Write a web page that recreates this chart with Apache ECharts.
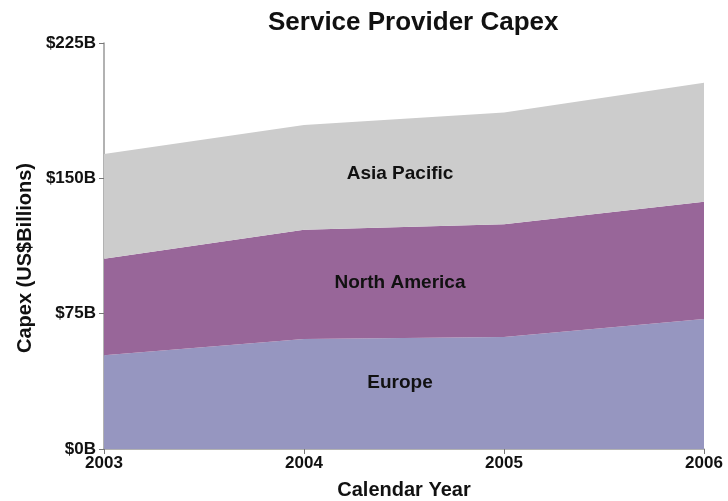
<!DOCTYPE html>
<html><head><meta charset="utf-8">
<script src="https://cdn.jsdelivr.net/npm/echarts@6/dist/echarts.min.js"></script>
<style>html,body{margin:0;padding:0;background:#fff}#c{width:728px;height:501px}</style>
</head><body><div id="c"></div>
<script>
var years = ['2003','2004','2005','2006'];
var europe = [52, 61, 62, 72];
var northAmerica = [53.5, 60.5, 62.5, 65];
var asiaPacific = [58, 58, 62, 66];
var seriesNames = ['Europe','North America','Asia Pacific'];
var colors = ['#9696c0','#986699','#cccccc'];
var yTicks = [0, 75, 150, 225];

var chart = echarts.init(document.getElementById('c'));
var font = '"Liberation Sans", Arial, sans-serif';
function mk(name, data, color){
  return {name:name, type:'line', stack:'total', data:data, symbol:'none', smooth:false,
    lineStyle:{width:0}, areaStyle:{color:color, opacity:1}, itemStyle:{color:color}};
}
chart.setOption({
  animation:false,
  title:{text:'Service Provider Capex', left:263, top:5,
    textStyle:{fontFamily:font, fontWeight:'bold', fontSize:26, color:'#111'}},
  grid:{left:104, right:24, top:43, bottom:52, containLabel:false, outerBoundsMode:'none'},
  xAxis:{type:'category', data:years, boundaryGap:false,
    name:'Calendar Year', nameLocation:'middle', nameGap:31,
    nameTextStyle:{fontFamily:font, fontWeight:'bold', fontSize:20, color:'#111'},
    axisLine:{lineStyle:{color:'#999', width:1.5}},
    axisTick:{show:true, length:5, lineStyle:{color:'#777'}},
    axisLabel:{fontFamily:font, fontWeight:'bold', fontSize:17, color:'#111', margin:6}},
  yAxis:{type:'value', min:yTicks[0], max:yTicks[yTicks.length-1], interval:75,
    name:'Capex (US$Billions)', nameLocation:'middle', nameGap:68,
    nameTextStyle:{fontFamily:font, fontWeight:'bold', fontSize:20, color:'#111', padding:[0,24,0,0]},
    splitLine:{show:false},
    axisLine:{show:true, lineStyle:{color:'#999', width:1.5}},
    axisTick:{show:true, length:5, lineStyle:{color:'#777'}},
    axisLabel:{fontFamily:font, fontWeight:'bold', fontSize:17, color:'#111', margin:8,
      formatter:function(v){return '$'+v+'B';}}},
  series:[mk(seriesNames[0], europe, colors[0]), mk(seriesNames[1], northAmerica, colors[1]), mk(seriesNames[2], asiaPacific, colors[2])]
});
// in-area labels between 2004 and 2005
var layers = [europe, northAmerica, asiaPacific];
var frac = [0.6, 0.5, 0.49];
var base = [0,0], g = [];
for (var k=0;k<3;k++){
  var lo = (base[0]+base[1])/2;
  var top0 = base[0]+layers[k][1], top1 = base[1]+layers[k][2];
  var hi = (top0+top1)/2;
  var v = lo + (hi-lo)*frac[k];
  var p0 = chart.convertToPixel({xAxisIndex:0, yAxisIndex:0},[1,v]);
  var p1 = chart.convertToPixel({xAxisIndex:0, yAxisIndex:0},[2,v]);
  g.push({type:'text', z:100, x:(p0[0]+p1[0])/2 - 4, y:p0[1],
    style:{text:seriesNames[k], font:'bold 19px "Liberation Sans", Arial, sans-serif', fill:'#111',
      align:'center', verticalAlign:'middle'}});
  base = [top0, top1];
}
chart.setOption({graphic:{elements:g}});
</script></body></html>
